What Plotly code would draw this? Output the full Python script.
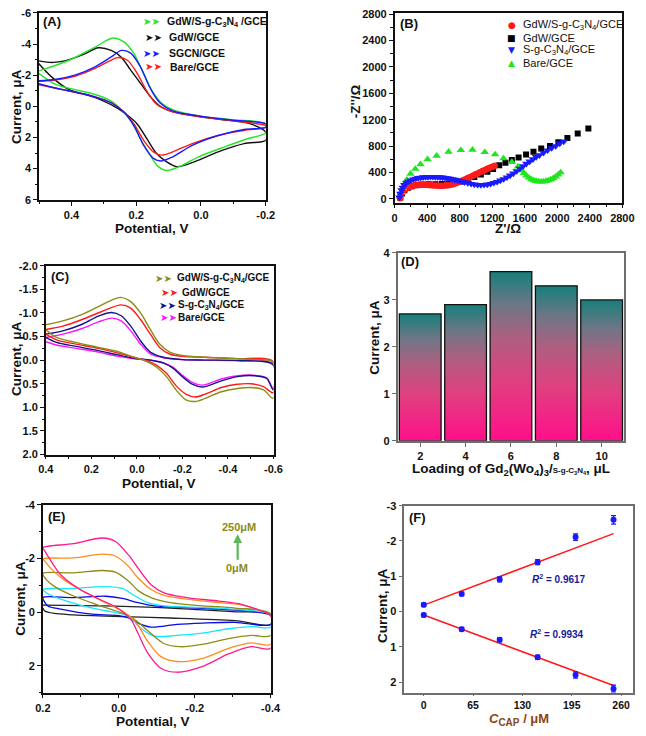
import plotly.graph_objects as go

FONT = "Liberation Sans, Arial, sans-serif"
W, H = 646, 736

# ---------------- Panel A : CV of modified electrodes ----------------
A_names = ["GdW/S-g-C<sub>3</sub>N<sub>4</sub> /GCE", "GdW/GCE", "SGCN/GCE", "Bare/GCE"]
A_colors = ["#22e622", "#111111", "#1a1aff", "#ff1a1a"]
A_green_E = [0.501, 0.407, 0.327, 0.272, 0.237, 0.207, 0.177, 0.147, 0.117, 0.077, 0.007, -0.093, -0.2,
             -0.2, -0.143, -0.073, 0.007, 0.067, 0.107, 0.132, 0.157, 0.187, 0.217, 0.247, 0.277, 0.327, 0.387, 0.447, 0.501]
A_green_I = [-2.27, -2.96, -3.8, -4.39, -4.12, -3.38, -2.12, -0.86, -0.13, 0.29, 0.61, 0.86, 1.13,
             1.70, 2.08, 2.6, 3.24, 3.87, 4.12, 3.87, 3.13, 2.08, 0.92, 0.19, -0.34, -0.76, -1.07, -1.39, -2.12]
A_black_E = [0.501, 0.457, 0.407, 0.357, 0.317, 0.277, 0.247, 0.217, 0.187, 0.157, 0.127, 0.087, 0.007, -0.093, -0.153, -0.2,
             -0.2, -0.133, -0.053, 0.007, 0.047, 0.077, 0.107, 0.137, 0.167, 0.197, 0.227, 0.257, 0.307, 0.357, 0.407, 0.457, 0.501]
A_black_I = [-2.92, -2.82, -3.0, -3.38, -3.76, -3.59, -3.17, -2.33, -1.49, -0.65, -0.02, 0.36, 0.65, 0.92, 1.13, 1.66,
             2.18, 2.39, 2.92, 3.45, 3.76, 3.87, 3.55, 3.03, 2.08, 1.13, 0.57, 0.13, -0.4, -0.76, -1.07, -1.81, -2.75]
A_blue_E = [0.501, 0.447, 0.387, 0.327, 0.277, 0.245, 0.217, 0.187, 0.157, 0.127, 0.087, 0.007, -0.093, -0.2,
            -0.2, -0.133, -0.053, 0.027, 0.087, 0.122, 0.147, 0.177, 0.207, 0.237, 0.277, 0.327, 0.387, 0.447, 0.501]
A_blue_I = [-1.64, -1.74, -2.02, -2.54, -3.17, -3.59, -3.42, -2.54, -1.18, -0.23, 0.29, 0.61, 0.88, 1.13,
            1.34, 1.49, 1.87, 2.5, 3.24, 3.51, 3.34, 2.5, 1.24, 0.4, -0.23, -0.61, -0.9, -1.16, -1.45]
A_red_E = [0.501, 0.447, 0.387, 0.327, 0.282, 0.257, 0.227, 0.197, 0.167, 0.137, 0.097, 0.007, -0.093, -0.2,
           -0.2, -0.133, -0.053, 0.027, 0.087, 0.122, 0.147, 0.177, 0.207, 0.237, 0.277, 0.327, 0.387, 0.447, 0.501]
A_red_I = [-1.6, -1.7, -1.95, -2.44, -2.92, -3.13, -2.96, -2.12, -0.97, -0.13, 0.29, 0.65, 0.92, 1.24,
           1.34, 1.55, 1.87, 2.39, 2.92, 3.13, 2.92, 2.18, 1.13, 0.36, -0.23, -0.61, -0.9, -1.16, -1.39]

# ---------------- Panel B : Nyquist plots ----------------
B_names = ["GdW/S-g-C<sub>3</sub>N<sub>4</sub>/GCE", "GdW/GCE", "S-g-C<sub>3</sub>N<sub>4</sub>/GCE", "Bare/GCE"]
B_red_x = [65, 70, 80, 95, 110, 130, 155, 180, 210, 240, 270, 300, 330, 360, 390, 420, 450, 480, 510, 540, 570, 600,
           630, 660, 690, 720, 750, 780, 810, 840, 870, 900, 930, 960, 990, 1020, 1050, 1080, 1110, 1140, 1170, 1200, 1230]
B_red_y = [10, 40, 70, 100, 125, 145, 165, 180, 192, 202, 208, 212, 214, 214, 212, 210, 207, 203, 200, 197, 196, 197,
           200, 205, 212, 222, 235, 250, 266, 282, 298, 315, 332, 350, 367, 385, 402, 420, 437, 454, 470, 486, 500]
B_black_x = [70, 90, 120, 160, 210, 270, 340, 420, 500, 580, 660, 740, 820, 900, 980, 1060, 1140, 1210,
             1286, 1362, 1441, 1524, 1616, 1707, 1802, 1910, 2013, 2124, 2251, 2382]
B_black_y = [20, 80, 130, 165, 190, 205, 215, 220, 222, 225, 230, 240, 262, 290, 330, 370, 410, 450,
             508, 548, 588, 627, 672, 712, 762, 802, 857, 921, 991, 1066]
B_blue_x = [60, 70, 85, 100, 120, 145, 170, 200, 230, 260, 290, 320, 350, 380, 410, 440, 470, 500, 530, 560, 590, 620,
            650, 680, 710, 740, 770, 800, 830, 860, 900, 940, 980, 1020, 1060, 1100, 1140, 1180, 1220, 1260, 1300,
            1340, 1380, 1420, 1460, 1500, 1540, 1580, 1620, 1660, 1700, 1740, 1780, 1830, 1880, 1930, 1980, 2030, 2080]
B_blue_y = [20, 80, 130, 170, 210, 240, 262, 280, 295, 307, 316, 322, 327, 330, 332, 333, 333, 332, 330, 327, 323, 318,
            312, 305, 297, 290, 281, 272, 262, 252, 240, 228, 218, 212, 210, 212, 218, 228, 242, 258, 278,
            300, 325, 355, 385, 420, 458, 495, 532, 566, 600, 635, 662, 700, 735, 770, 800, 840, 870]
B_green_x = [65, 80, 100, 125, 150, 195, 254, 318, 405, 516, 663, 814, 957, 1108, 1235, 1338, 1441, 1517,
             1560, 1590, 1620, 1650, 1680, 1710, 1740, 1770, 1800, 1830, 1860, 1890, 1920, 1950, 1980, 2010, 2040]
B_green_y = [40, 100, 160, 230, 290, 378, 453, 523, 598, 652, 712, 737, 742, 707, 672, 613, 558, 488,
             430, 390, 350, 320, 295, 278, 268, 262, 260, 262, 268, 278, 292, 310, 335, 365, 400]

# ---------------- Panel C : CV ----------------
C_names = ["GdW/S-g-C<sub>3</sub>N<sub>4</sub>/GCE", "GdW/GCE", "S-g-C<sub>3</sub>N<sub>4</sub>/GCE", "Bare/GCE"]
C_colors = ["#8c8c16", "#ff1a1a", "#14148c", "#ff14ff"]
C_olive_E = [0.4, 0.325, 0.24, 0.154, 0.1, 0.069, 0.03, -0.016, -0.059, -0.10, -0.144, -0.2, -0.3, -0.442, -0.527, -0.598,
             -0.598, -0.556, -0.5, -0.442, -0.371, -0.3, -0.257, -0.215, -0.172, -0.13, -0.087, -0.044, 0.012, 0.083, 0.169, 0.268, 0.353, 0.4]
C_olive_I = [-0.75, -0.83, -0.97, -1.17, -1.29, -1.33, -1.25, -1.0, -0.65, -0.34, -0.17, -0.1, -0.06, -0.03, -0.01, 0.04,
             0.81, 0.63, 0.58, 0.6, 0.67, 0.81, 0.875, 0.84, 0.63, 0.35, 0.15, 0.03, -0.06, -0.18, -0.27, -0.375, -0.48, -0.65]
C_red_E = [0.4, 0.325, 0.24, 0.154, 0.069, 0.027, -0.016, -0.059, -0.10, -0.144, -0.2, -0.3, -0.442, -0.598,
           -0.598, -0.556, -0.5, -0.442, -0.371, -0.3, -0.257, -0.215, -0.172, -0.13, -0.087, -0.044, 0.012, 0.083, 0.169, 0.268, 0.353, 0.4]
C_red_I = [-0.65, -0.72, -0.86, -1.03, -1.17, -1.1, -0.86, -0.55, -0.27, -0.13, -0.08, -0.06, -0.03, 0.03,
           0.69, 0.56, 0.5, 0.51, 0.58, 0.72, 0.78, 0.72, 0.54, 0.28, 0.11, 0.01, -0.06, -0.15, -0.25, -0.34, -0.43, -0.55]
C_blue_E = [0.4, 0.325, 0.24, 0.169, 0.112, 0.069, 0.027, -0.016, -0.059, -0.116, -0.2, -0.3, -0.442, -0.598,
            -0.598, -0.57, -0.513, -0.442, -0.371, -0.314, -0.286, -0.243, -0.2, -0.158, -0.116, -0.059, 0.012, 0.083, 0.169, 0.268, 0.353, 0.4]
C_blue_I = [-0.55, -0.62, -0.76, -0.93, -1.01, -0.94, -0.72, -0.41, -0.17, -0.06, -0.01, 0.0, 0.01, 0.1,
            0.63, 0.39, 0.33, 0.35, 0.44, 0.54, 0.57, 0.51, 0.35, 0.17, 0.06, 0.0, -0.04, -0.11, -0.2, -0.29, -0.375, -0.48]
C_mag_E = [0.4, 0.325, 0.24, 0.169, 0.109, 0.069, 0.027, -0.016, -0.059, -0.116, -0.2, -0.3, -0.442, -0.598,
           -0.598, -0.57, -0.513, -0.442, -0.371, -0.314, -0.286, -0.243, -0.2, -0.158, -0.116, -0.059, 0.012, 0.083, 0.169, 0.268, 0.353, 0.4]
C_mag_I = [-0.48, -0.55, -0.67, -0.81, -0.89, -0.83, -0.62, -0.34, -0.13, -0.05, -0.01, 0.0, 0.01, 0.08,
           0.6, 0.375, 0.32, 0.33, 0.4, 0.5, 0.53, 0.47, 0.32, 0.15, 0.06, 0.0, -0.03, -0.08, -0.17, -0.25, -0.32, -0.39]

# ---------------- Panel D : loading optimisation ----------------
D_load = [2, 4, 6, 8, 10]
D_cur = [2.7, 2.9, 3.6, 3.3, 3.0]

# ---------------- Panel E : CV at increasing concentration ----------------
E_colors = ["#222222", "#0a0ae6", "#14e6ff", "#8c8c16", "#ff8c1a", "#ff1a8c"]
E_black_E = [0.2, 0.034, -0.136, -0.306, -0.4, -0.4, -0.306, -0.136, -0.009, 0.119, 0.17, 0.196, 0.2]
E_black_I = [-0.26, -0.23, -0.15, -0.01, 0.07, 0.46, 0.32, 0.22, 0.17, 0.1, 0.05, -0.05, -0.15]
E_blue_E = [0.2, 0.119, 0.034, -0.009, -0.051, -0.094, -0.179, -0.264, -0.349, -0.4,
            -0.4, -0.306, -0.221, -0.153, -0.085, -0.051, -0.026, 0.0, 0.077, 0.153, 0.187, 0.197, 0.2]
E_blue_I = [-0.54, -0.54, -0.59, -0.51, -0.35, -0.23, -0.17, -0.11, -0.02, 0.13,
            0.46, 0.38, 0.41, 0.46, 0.56, 0.41, 0.22, 0.13, 0.07, -0.11, -0.23, -0.41, -0.54]
E_cyan_E = [0.2, 0.119, 0.034, -0.009, -0.043, -0.077, -0.119, -0.221, -0.306, -0.4,
            -0.4, -0.349, -0.289, -0.221, -0.153, -0.094, -0.06, -0.034, -0.009, 0.034, 0.094, 0.153, 0.191, 0.2]
E_cyan_I = [-0.84, -0.88, -0.95, -0.88, -0.6, -0.35, -0.23, -0.17, -0.1, 0.1,
            0.56, 0.54, 0.62, 0.78, 0.87, 0.9, 0.62, 0.26, 0.07, -0.05, -0.23, -0.48, -0.72, -0.84]
E_olive_E = [0.2, 0.119, 0.043, 0.009, -0.026, -0.051, -0.085, -0.136, -0.221, -0.306, -0.4,
             -0.4, -0.349, -0.289, -0.221, -0.162, -0.119, -0.085, -0.051, -0.026, 0.009, 0.06, 0.119, 0.17, 0.191, 0.2]
E_olive_I = [-1.44, -1.46, -1.55, -1.49, -1.15, -0.8, -0.54, -0.35, -0.23, -0.15, 0.07,
             0.87, 0.87, 0.99, 1.2, 1.29, 1.17, 0.8, 0.38, 0.13, -0.05, -0.29, -0.6, -0.96, -1.21, -1.44]
E_orange_E = [0.2, 0.119, 0.043, 0.009, -0.026, -0.051, -0.085, -0.119, -0.179, -0.264, -0.323, -0.374, -0.4,
              -0.4, -0.349, -0.289, -0.221, -0.153, -0.111, -0.077, -0.051, -0.026, 0.0, 0.043, 0.094, 0.145, 0.179, 0.194, 0.2]
E_orange_I = [-1.98, -2.02, -2.16, -2.09, -1.7, -1.27, -0.84, -0.62, -0.48, -0.35, -0.27, -0.05, 0.13,
              1.2, 1.15, 1.35, 1.72, 1.84, 1.66, 1.11, 0.5, 0.13, -0.11, -0.41, -0.78, -1.21, -1.63, -1.88, -1.98]
E_pink_E = [0.2, 0.119, 0.043, 0.009, -0.026, -0.051, -0.085, -0.119, -0.179, -0.264, -0.323, -0.374, -0.4,
            -0.4, -0.349, -0.289, -0.221, -0.153, -0.111, -0.077, -0.051, -0.034, -0.017, 0.009, 0.051, 0.102, 0.153, 0.183, 0.196, 0.2]
E_pink_I = [-2.4, -2.55, -2.76, -2.63, -2.12, -1.63, -1.02, -0.72, -0.54, -0.41, -0.29, -0.05, 0.13,
            1.35, 1.29, 1.56, 2.02, 2.24, 2.09, 1.54, 0.8, 0.32, 0.07, -0.2, -0.48, -0.84, -1.39, -2.0, -2.3, -2.4]

# ---------------- Panel F : calibration ----------------
F_conc = [0, 50, 100, 150, 200, 250]
F_ox = [-0.19, -0.5, -0.91, -1.4, -2.11, -2.6]
F_ox_err = [0.05, 0.05, 0.07, 0.07, 0.09, 0.12]
F_red = [0.1, 0.5, 0.8, 1.3, 1.8, 2.19]
F_red_err = [0.05, 0.05, 0.06, 0.06, 0.09, 0.1]
F_fit_x = [0, 250]
F_ox_fit = [-0.18, -2.21]
F_red_fit = [0.1, 2.1]
F_r2 = ["0.9617", "0.9934"]

# tick definitions
A_xt = [0.4, 0.2, 0.0, -0.2]; A_xl = ["0.4", "0.2", "0.0", "-0.2"]
A_yt = [-6, -4, -2, 0, 2, 4, 6]; A_yl = ["-6", "-4", "-2", "0", "2", "4", "6"]
B_t = [0, 400, 800, 1200, 1600, 2000, 2400, 2800]; B_l = ["0", "400", "800", "1200", "1600", "2000", "2400", "2800"]
C_xt = [0.4, 0.2, 0.0, -0.2, -0.4, -0.6]; C_xl = ["0.4", "0.2", "0.0", "-0.2", "-0.4", "-0.6"]
C_yt = [-2.0, -1.5, -1.0, -0.5, 0.0, 0.5, 1.0, 1.5, 2.0]; C_yl = ["-2.0", "-1.5", "-1.0", "-0.5", "0.0", "0.5", "1.0", "1.5", "2.0"]
D_yt = [0, 1, 2, 3, 4]; D_yl = ["0", "1", "2", "3", "4"]
E_xt = [0.2, 0.0, -0.2, -0.4]; E_xl = ["0.2", "0.0", "-0.2", "-0.4"]
E_yt = [-4, -2, 0, 2]; E_yl = ["-4", "-2", "0", "2"]
F_xt = [0, 65, 130, 195, 260]; F_xl = ["0", "65", "130", "195", "260"]
F_yt = [-3, -2, -1, 0, 1, 2]; F_yl = ["-3", "-2", "-1", "0", "1", "2"]


def px(x):
    return x / W


def py(y):
    return 1 - y / H


def axis(dom, anchor, rng, tv, tl, minor_dtick=None, minor_tick0=0, color="#111111", lw=1.5, ticklen=4, fs=11):
    d = dict(domain=dom, anchor=anchor, range=rng, tickmode="array", tickvals=tv, ticktext=tl,
             ticks="outside", ticklen=ticklen, tickwidth=1.2, tickcolor=color, showline=True, linecolor=color,
             linewidth=lw, mirror=True, showgrid=False, zeroline=False,
             tickfont=dict(family=FONT, size=fs, color="#111111", weight="bold"))
    if minor_dtick:
        d["minor"] = dict(ticks="outside", ticklen=2.5, tickwidth=1, tickcolor=color,
                          tickmode="linear", tick0=minor_tick0, dtick=minor_dtick, showgrid=False)
    return d


fig = go.Figure()


def line(xs, ys, color, ax, width=1.4):
    fig.add_trace(go.Scatter(x=xs, y=ys, mode="lines", line=dict(color=color, width=width, shape="spline", smoothing=0.9),
                             xaxis="x" + ax, yaxis="y" + ax, hoverinfo="skip"))


# Panel A
for E, I, c in [(A_black_E, A_black_I, A_colors[1]), (A_green_E, A_green_I, A_colors[0]),
                (A_red_E, A_red_I, A_colors[3]), (A_blue_E, A_blue_I, A_colors[2])]:
    line(E, I, c, "")

# Panel B
fig.add_trace(go.Scatter(x=B_black_x, y=B_black_y, mode="markers", marker=dict(symbol="square", size=6, color="#000000"),
                         xaxis="x2", yaxis="y2"))
fig.add_trace(go.Scatter(x=B_red_x, y=B_red_y, mode="markers", marker=dict(symbol="circle", size=6.5, color="#ff1a1a"),
                         xaxis="x2", yaxis="y2"))
fig.add_trace(go.Scatter(x=B_green_x, y=B_green_y, mode="markers", marker=dict(symbol="triangle-up", size=7.5, color="#1ee61e"),
                         xaxis="x2", yaxis="y2"))
fig.add_trace(go.Scatter(x=B_blue_x, y=B_blue_y, mode="markers", marker=dict(symbol="triangle-down", size=7.5, color="#1a1aff"),
                         xaxis="x2", yaxis="y2"))

# Panel C
for E, I, c in [(C_mag_E, C_mag_I, C_colors[3]), (C_blue_E, C_blue_I, C_colors[2]),
                (C_red_E, C_red_I, C_colors[1]), (C_olive_E, C_olive_I, C_colors[0])]:
    line(E, I, c, "3")

# Panel D : gradient bars
BAR_HALF = 0.92
D_scale = [[0.0, "#ff0f8a"], [0.35, "#e0407f"], [0.6, "#b05e80"], [0.8, "#6f7686"], [1.0, "#177f7b"]]
for xc, v in zip(D_load, D_cur):
    xs = [xc - BAR_HALF, xc - BAR_HALF, xc + BAR_HALF, xc + BAR_HALF, xc - BAR_HALF]
    ys = [0, v, v, 0, 0]
    fig.add_trace(go.Scatter(x=xs, y=ys, mode="lines", fill="toself",
                             fillgradient=dict(type="vertical", colorscale=D_scale),
                             line=dict(color="#111111", width=1.3), xaxis="x4", yaxis="y4", hoverinfo="skip"))

# Panel E
for E, I, c in [(E_black_E, E_black_I, E_colors[0]), (E_blue_E, E_blue_I, E_colors[1]), (E_cyan_E, E_cyan_I, E_colors[2]),
                (E_olive_E, E_olive_I, E_colors[3]), (E_orange_E, E_orange_I, E_colors[4]), (E_pink_E, E_pink_I, E_colors[5])]:
    line(E, I, c, "5", width=1.3)

# Panel F
for fit in (F_ox_fit, F_red_fit):
    fig.add_trace(go.Scatter(x=F_fit_x, y=fit, mode="lines", line=dict(color="#ff1a1a", width=1.5),
                             xaxis="x6", yaxis="y6"))
for vals, errs in ((F_ox, F_ox_err), (F_red, F_red_err)):
    fig.add_trace(go.Scatter(x=F_conc, y=vals, mode="markers",
                             marker=dict(symbol="circle", size=6, color="#1a1aff"),
                             error_y=dict(type="data", array=errs, visible=True, color="#1a1aff", thickness=1.3, width=2.5),
                             xaxis="x6", yaxis="y6"))

# ---------------- layout ----------------
GRAY = "#6e6e6e"
layout = dict(
    width=W, height=H, margin=dict(l=0, r=0, t=0, b=0), showlegend=False,
    paper_bgcolor="white", plot_bgcolor="white", font=dict(family=FONT, color="#111111"),
    xaxis=axis([px(32), px(266)], "y", [0.5, -0.2], A_xt, A_xl, 0.1, 0),
    yaxis=axis([py(197), py(7)], "x", [6, -6], A_yt, A_yl, 1, 0),
    xaxis2=axis([px(399), px(634)], "y2", [0, 2800], B_t, B_l, 200, 0),
    yaxis2=axis([py(200), py(7)], "x2", [-60, 2820], B_t, B_l, 200, 0),
    xaxis3=axis([px(39), px(274)], "y3", [0.4, -0.6], C_xt, C_xl, 0.1, 0, ticklen=3),
    yaxis3=axis([py(456), py(264)], "x3", [2.0, -2.0], C_yt, C_yl, 0.25, 0),
    xaxis4=axis([px(402), px(636)], "y4", [1, 11], D_load, [str(v) for v in D_load], None, 0, GRAY),
    yaxis4=axis([py(442), py(251)], "x4", [0, 4], D_yt, D_yl, None, 0, GRAY),
    xaxis5=axis([px(36), px(271)], "y5", [0.2, -0.4], E_xt, E_xl, 0.1, 0),
    yaxis5=axis([py(698), py(507)], "x5", [3, -4], E_yt, E_yl, 1, 0),
    xaxis6=axis([px(409), px(645)], "y6", [-25.6, 275.7], F_xt, F_xl, None, 0, GRAY, ticklen=2, fs=10.5),
    yaxis6=axis([py(698), py(508)], "x6", [2.3, -3], F_yt, F_yl, None, 0, GRAY),
)
fig.update_layout(**layout)

ann = []


def text(x, y, s, size=11, color="#111111", bold=True, xanchor="left", angle=0, family=FONT, yanchor="middle"):
    ann.append(dict(x=px(x), y=py(y), xref="paper", yref="paper", text=s, showarrow=False, xanchor=xanchor,
                    yanchor=yanchor, textangle=angle,
                    font=dict(family=family, size=size, color=color, weight="bold" if bold else "normal")))


# panel labels
for lab, x, y in [("(A)", 34, 16), ("(B)", 402, 18), ("(C)", 42, 275), ("(D)", 403, 260), ("(E)", 39, 519), ("(F)", 412, 520)]:
    text(x, y, lab, size=13)

# axis titles
TS = 13.5
for s, x, y in [("Current, μA", 9, 102), ("Current, μA", 8, 358), ("Current, μA", 378, 337),
                ("Current, μA", 13, 602), ("Current, μA", 386, 610), ("-Z''/Ω", 359, 97)]:
    text(x, y, s, size=TS, xanchor="center", angle=-90)
for s, x, y in [("Potential, V", 149, 226), ("Z'/Ω", 516, 226), ("Potential, V", 156, 485),
                ("Potential, V", 150, 727)]:
    text(x, y, s, size=TS, xanchor="center")
text(519, 461, "Loading of Gd<sub>2</sub>(Wo<sub>4</sub>)<sub>3</sub>/<span style='font-size:8px'>S-g-C<sub>3</sub>N<sub>4</sub></span>, μL",
     size=TS, xanchor="center", yanchor="top")
text(527, 736, "<i>C</i><sub><span style='font-size:10px'>CAP</span></sub> / μM", size=13, xanchor="center",
     color="#8b4513", yanchor="bottom")

# legends A
for name, c, y, xa, xt in zip(A_names, A_colors, [16, 32, 48, 62], [137, 139, 137, 139], [162, 164, 164, 165]):
    text(xa, y, "➤➤", size=10, color=c, bold=False, family="DejaVu Sans")
    text(xt, y, name, size=10.5)
# legends C
for name, c, y, xa, xt in zip(C_names, C_colors, [277, 291, 304, 317], [150, 156, 154, 155], [172, 177, 173, 173]):
    text(xa, y, "➤➤", size=10, color=c, bold=False, family="DejaVu Sans")
    text(xt, y, name, size=10)
# legend B
for name, c, sym, y in zip(B_names, ["#ff1a1a", "#000000", "#1a1aff", "#1ee61e"], ["●", "■", "▼", "▲"], [19, 33, 45, 58]):
    text(520, y, sym, size=9, color=c, bold=False, xanchor="center", family="DejaVu Sans")
    text(529, y, name, size=11, bold=False)

# panel E arrow annotation
text(238, 530, "250μM", size=11, color="#8c8c16", xanchor="center")
text(236, 571, "0μM", size=11, color="#8c8c16", xanchor="center")
ann.append(dict(x=px(237), y=py(537), xref="paper", yref="paper", ax=0, ay=27, axref="pixel", ayref="pixel",
                text="", showarrow=True, arrowhead=2, arrowsize=0.8, arrowwidth=2.2, arrowcolor="#5cb85c"))

# R^2 labels
text(569, 583, "<i>R</i><sup>2</sup> = " + F_r2[0], size=10, color="#1a1a99", xanchor="center")
text(567, 638, "<i>R</i><sup>2</sup> = " + F_r2[1], size=10, color="#1a1a99", xanchor="center")

fig.update_layout(annotations=ann)
fig.write_html("out.html")
